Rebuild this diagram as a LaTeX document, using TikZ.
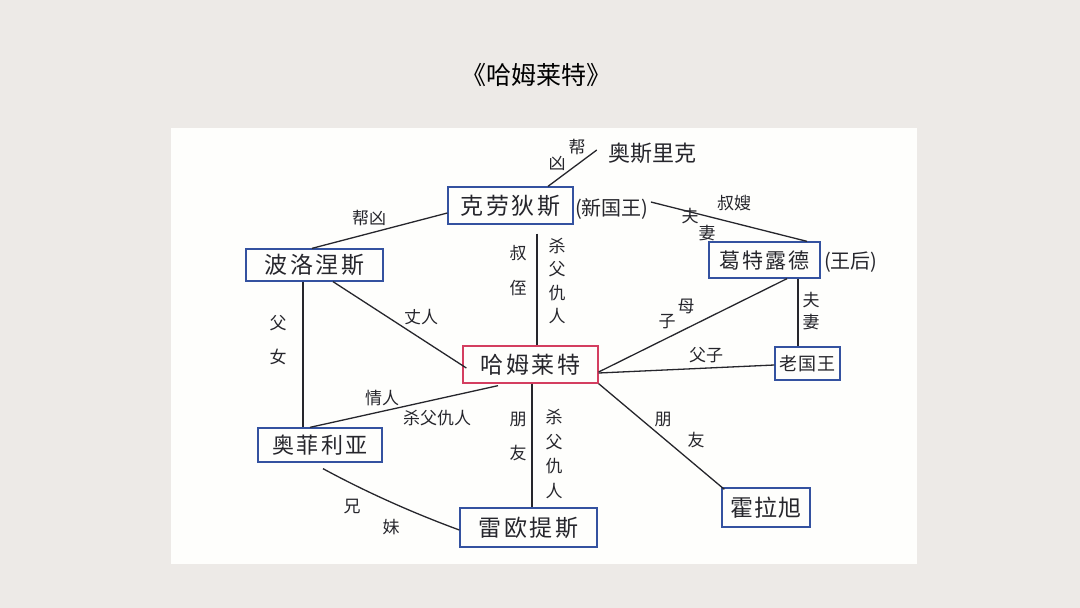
\documentclass[tikz,border=0pt]{standalone}
\usepackage{fontspec}
\setmainfont{Noto Sans CJK SC}
\usetikzlibrary{calc}
\definecolor{bgc}{RGB}{237,234,231}
\definecolor{panelc}{RGB}{254,254,252}
\definecolor{boxblue}{RGB}{52,82,160}
\definecolor{boxred}{RGB}{212,62,96}
\definecolor{ink}{RGB}{38,38,44}
\begin{document}
\begin{tikzpicture}[x=1pt,y=-1pt,
  persbox/.style={draw=boxblue,line width=1.3pt,inner sep=0pt,text=ink,
    font=\fontsize{23}{23}\selectfont\addfontfeatures{LetterSpace=12}},
  redbox/.style={persbox,draw=boxred},
  lbl/.style={font=\fontsize{17}{17}\selectfont,text=ink,inner sep=0pt},
  side/.style={font=\fontsize{20}{20}\selectfont,text=ink,inner sep=0pt},
  link/.style={draw=ink,line width=1.3pt}]
\useasboundingbox (0,0) rectangle (1080,608);
\fill[bgc] (0,0) rectangle (1080,608);
\fill[panelc] (171,128) rectangle (917,564);
\node[font=\fontsize{25}{25}\selectfont,text=black,inner sep=0pt] (title) at (536,75) {《哈姆莱特》};
% people
\node[persbox,minimum width=125pt,minimum height=37pt] (kld) at (510.5,205.5) {克劳狄斯};
\node[side,anchor=west] (kldx) at (575,209) {(新国王)};
\node[font=\fontsize{22}{22}\selectfont,text=ink,inner sep=0pt] (ask) at (652,153) {奥斯里克};
\node[persbox,minimum width=137pt,minimum height=32pt] (bln) at (314.5,265) {波洛涅斯};
\node[persbox,minimum width=111pt,minimum height=36pt,font=\fontsize{21}{21}\selectfont\addfontfeatures{LetterSpace=8}] (gtd) at (764.5,260) {葛特露德};
\node[side,anchor=west] (gtdx) at (824,262) {(王后)};
\node[redbox,minimum width=135pt,minimum height=37pt] (hml) at (530.5,364.5) {哈姆莱特};
\node[persbox,minimum width=65pt,minimum height=33pt,font=\fontsize{18}{18}\selectfont\addfontfeatures{LetterSpace=4}] (lgw) at (807.5,363.5) {老国王};
\node[persbox,minimum width=124pt,minimum height=34pt,font=\fontsize{22}{22}\selectfont\addfontfeatures{LetterSpace=10}] (afl) at (320,445) {奥菲利亚};
\node[persbox,minimum width=137pt,minimum height=39pt] (loa) at (528.5,527.5) {雷欧提斯};
\node[persbox,minimum width=88pt,minimum height=39pt,font=\fontsize{23}{23}\selectfont\addfontfeatures{LetterSpace=6}] (hlx) at (766,507.5) {霍拉旭};
% connectors
\draw[link] ($(kld.north)+(37.5,0)$) -- ($(ask.west)+(-11,-3)$);
\draw[link] ($(bln.north)+(-2.5,0)$) -- ($(kld.west)+(0,7.5)$);
\draw[link] ($(kldx.east)+(2,-7)$) -- ($(gtd.north)+(42.5,0)$);
\draw[link] ($(kld.south)+(26.5,9)$) -- ($(hml.north)+(6.5,0)$);
\draw[link] ($(bln.south)+(18.5,0)$) -- ($(hml.west)+(4,3.5)$);
\draw[link] ($(bln.south)+(-11.5,0)$) -- ($(afl.north)+(-17,0)$);
\draw[link] ($(afl.north)+(-10,0)$) -- ($(hml.south)+(-32.5,2)$);
\draw[link] ($(hml.south)+(1.5,0)$) -- ($(loa.north)+(3.5,0)$);
\draw[link] ($(afl.south)+(3,6)$) .. controls (366,492) and (413,513) .. ($(loa.west)+(0,2.5)$);
\draw[link] ($(hml.east)+(0,7.5)$) -- ($(gtd.south)+(22.5,0)$);
\draw[link] ($(hml.east)+(0,8.5)$) -- ($(lgw.west)+(0,1.5)$);
\draw[link] ($(gtd.south)+(33.5,0)$) -- ($(lgw.north)+(-9.5,0)$);
\draw[link] (hml.south east) -- ($(hlx.north west)+(3,2)$);
% labels
\node[lbl] (l1a) at (577,147) {帮};
\node[lbl] (l1b) at (557,163) {凶};
\node[lbl] (l2) at (369,218) {帮凶};
\node[lbl] (l3a) at (734,203) {叔嫂};
\node[lbl] (l3b) at (690,216) {夫};
\node[lbl] (l3c) at (707,233) {妻};
\node[lbl] (l4a) at (518,253) {叔};
\node[lbl] (l4b) at (518,288) {侄};
\node[lbl,align=center,font=\fontsize{17}{23.5}\selectfont] (l4c) at (557,281) {杀\\父\\仇\\人};
\node[lbl] (l5) at (421,317) {丈人};
\node[lbl] (l6a) at (278,323) {父};
\node[lbl] (l6b) at (278,357) {女};
\node[lbl] (l7a) at (382,398) {情人};
\node[lbl] (l7b) at (437,418) {杀父仇人};
\node[lbl] (l8a) at (518,420) {朋};
\node[lbl] (l8b) at (518,453) {友};
\node[lbl,align=center,font=\fontsize{17}{24.5}\selectfont] (l8c) at (554,454) {杀\\父\\仇\\人};
\node[lbl] (l9a) at (352,507) {兄};
\node[lbl] (l9b) at (391,527) {妹};
\node[lbl] (l10a) at (686,306) {母};
\node[lbl] (l10b) at (667,322) {子};
\node[lbl] (l11) at (706,355) {父子};
\node[lbl] (l12a) at (811,300) {夫};
\node[lbl] (l12b) at (811,322) {妻};
\node[lbl] (l13a) at (663,420) {朋};
\node[lbl] (l13b) at (696,440) {友};
\end{tikzpicture}
\end{document}
